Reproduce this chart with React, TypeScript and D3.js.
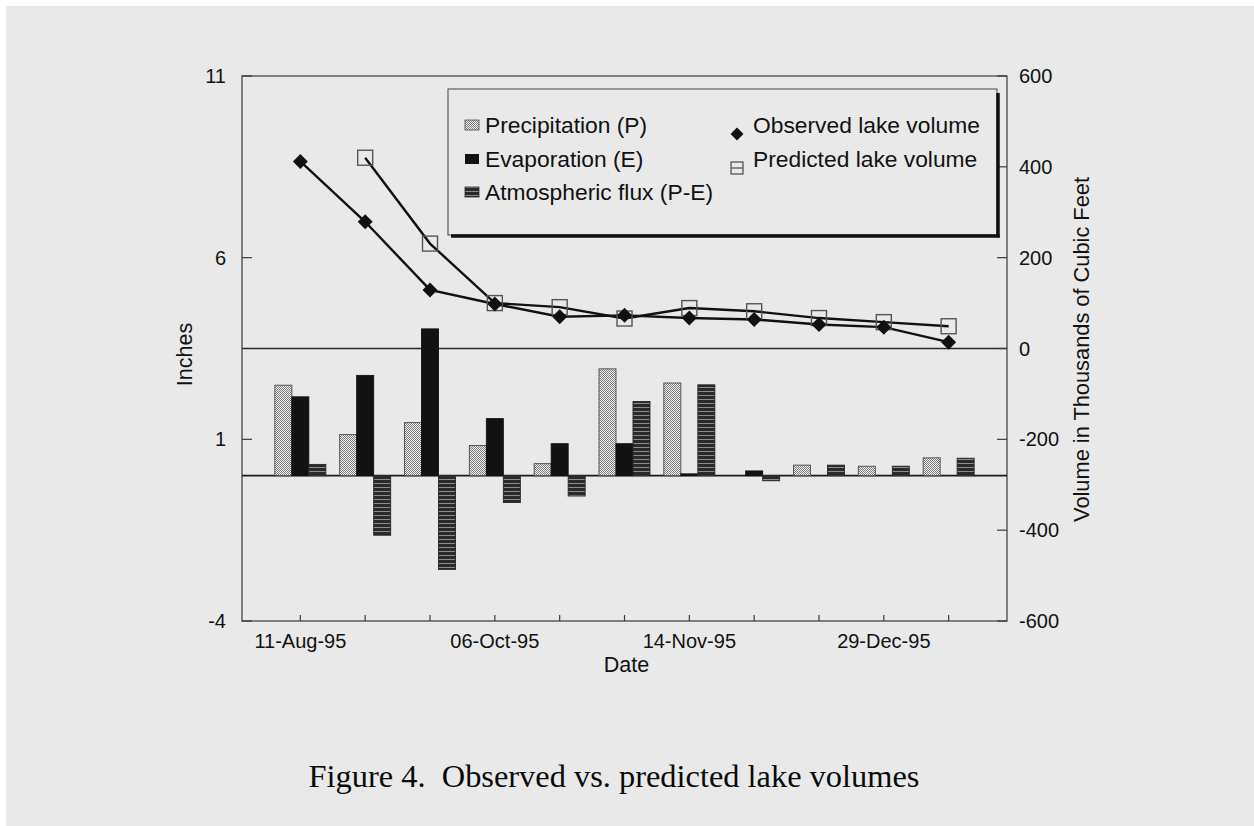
import React from "react";
import * as d3 from "d3";

// Survey intervals (category index) and the dates printed under every third tick
const categories = d3.range(11);
const tickLabels = ["11-Aug-95", "", "", "06-Oct-95", "", "", "14-Nov-95", "", "", "29-Dec-95", ""];

// Inches per interval
const precipitation = [2.49, 1.13, 1.46, 0.83, 0.33, 2.94, 2.55, 0, 0.29, 0.26, 0.49];
const evaporation = [2.17, 2.76, 4.04, 1.57, 0.88, 0.88, 0.05, 0.13, 0, 0, 0];
const atmosphericFlux = [0.31, -1.64, -2.58, -0.74, -0.56, 2.04, 2.5, -0.14, 0.29, 0.26, 0.48];

// Lake volume, thousands of cubic feet
const observedVolume = [412, 279, 129, 98, 70, 73, 67, 64, 53, 47, 14];
const predictedVolume: (number | null)[] = [null, 420, 231, 100, 91, 66, 89, 82, 67, 58, 49];

const leftTicks = [11, 6, 1, -4];
const rightTicks = [600, 400, 200, 0, -200, -400, -600];

const W = 1254;
const H = 826;
const plot = { left: 242, right: 1007, top: 76, bottom: 621 };
const BG = "#e9e9e9";
const INK = "#111111";
const SANS = "Arial, 'Liberation Sans', Helvetica, sans-serif";
const SERIF = "'Times New Roman', 'Liberation Serif', serif";

export default function App() {
  const x = d3
    .scalePoint<number>()
    .domain(categories)
    .range([plot.left, plot.right])
    .padding(0.9);
  const yIn = d3.scaleLinear().domain([-4, 11]).range([plot.bottom, plot.top]);
  const yVol = d3.scaleLinear().domain([-600, 600]).range([plot.bottom, plot.top]);

  const barW = 17;
  const barSeries = [
    { key: "p", values: precipitation, fill: "url(#patPrecip)", stroke: "#4a4a4a", offset: -1.5 },
    { key: "e", values: evaporation, fill: "#121212", stroke: "#121212", offset: -0.5 },
    { key: "f", values: atmosphericFlux, fill: "url(#patFlux)", stroke: "#262626", offset: 0.5 },
  ];

  const line = d3
    .line<number | null>()
    .defined((d) => d !== null)
    .x((_, i) => x(i) as number)
    .y((d) => yVol(d as number));

  const zeroIn = yIn(0);
  const zeroVol = yVol(0);

  const diamond = (cx: number, cy: number, r: number) =>
    `M${cx},${cy - r}L${cx + r},${cy}L${cx},${cy + r}L${cx - r},${cy}Z`;

  return (
    <svg
      width={W}
      height={H}
      viewBox={`0 0 ${W} ${H}`}
      style={{ position: "absolute", left: 0, top: 0, display: "block" }}
    >
      <defs>
        <pattern id="patPrecip" width="2" height="2" patternUnits="userSpaceOnUse">
          <rect width="2" height="2" fill="#f2f2f2" />
          <rect width="1" height="1" fill="#7a7a7a" />
          <rect x="1" y="1" width="1" height="1" fill="#7a7a7a" />
        </pattern>
        <pattern id="patFlux" width="4" height="4" patternUnits="userSpaceOnUse">
          <rect width="4" height="4" fill="#2a2a2a" />
          <rect y="3" width="4" height="1" fill="#8c8c8c" />
        </pattern>
      </defs>

      <rect width={W} height={H} fill="#ffffff" />
      <rect x={6} y={6} width={W - 6} height={H - 6} fill={BG} />

      {/* plot frame */}
      <rect
        x={plot.left}
        y={plot.top}
        width={plot.right - plot.left}
        height={plot.bottom - plot.top}
        fill="none"
        stroke="#3a3a3a"
        strokeWidth={1.2}
      />

      {/* zero lines for both value axes */}
      <line x1={plot.left} x2={plot.right} y1={zeroVol} y2={zeroVol} stroke="#2a2a2a" strokeWidth={1.5} />
      <line x1={plot.left} x2={plot.right} y1={zeroIn} y2={zeroIn} stroke="#1a1a1a" strokeWidth={1.6} />

      {/* bars */}
      {barSeries.map((s) =>
        s.values.map((v, i) => {
          if (v === 0) return null;
          const cx = (x(i) as number) + s.offset * barW;
          const y0 = Math.min(yIn(v), zeroIn);
          const h = Math.abs(yIn(v) - zeroIn);
          return (
            <rect
              key={`${s.key}${i}`}
              x={cx}
              y={y0}
              width={barW}
              height={h}
              fill={s.fill}
              stroke={s.stroke}
              strokeWidth={0.9}
            />
          );
        })
      )}

      {/* volume lines */}
      <path d={line(predictedVolume) || ""} fill="none" stroke={INK} strokeWidth={2.4} />
      <path d={line(observedVolume) || ""} fill="none" stroke={INK} strokeWidth={2.4} />
      {predictedVolume.map((v, i) =>
        v === null ? null : (
          <rect
            key={`pm${i}`}
            x={(x(i) as number) - 7.5}
            y={yVol(v) - 7.5}
            width={15}
            height={15}
            fill="none"
            stroke="#555"
            strokeWidth={1.4}
          />
        )
      )}
      {observedVolume.map((v, i) => (
        <path key={`om${i}`} d={diamond(x(i) as number, yVol(v), 7.5)} fill={INK} />
      ))}

      {/* left axis */}
      {leftTicks.map((t) => (
        <g key={`lt${t}`}>
          <line x1={plot.left} x2={plot.left + 10} y1={yIn(t)} y2={yIn(t)} stroke="#3a3a3a" strokeWidth={1.2} />
          <text x={226} y={yIn(t) + 7} textAnchor="end" fontFamily={SANS} fontSize={20} fill={INK}>
            {t}
          </text>
        </g>
      ))}
      <text
        transform={`translate(192,${(plot.top + plot.bottom) / 2 + 6}) rotate(-90)`}
        textAnchor="middle"
        fontFamily={SANS}
        fontSize={21.5}
        fill={INK}
      >
        Inches
      </text>

      {/* right axis */}
      {rightTicks.map((t) => (
        <g key={`rt${t}`}>
          <line x1={plot.right - 10} x2={plot.right} y1={yVol(t)} y2={yVol(t)} stroke="#3a3a3a" strokeWidth={1.2} />
          <text x={1019} y={yVol(t) + 7} textAnchor="start" fontFamily={SANS} fontSize={20} fill={INK}>
            {t}
          </text>
        </g>
      ))}
      <text
        transform={`translate(1089,${(plot.top + plot.bottom) / 2 + 1}) rotate(-90)`}
        textAnchor="middle"
        fontFamily={SANS}
        fontSize={21.8}
        fill={INK}
      >
        Volume in Thousands of Cubic Feet
      </text>

      {/* date axis */}
      {categories.map((c) => (
        <g key={`xt${c}`}>
          <line x1={x(c)} x2={x(c)} y1={plot.bottom} y2={plot.bottom - 6} stroke="#3a3a3a" strokeWidth={1.2} />
          {tickLabels[c] && (
            <text x={x(c)} y={648} textAnchor="middle" fontFamily={SANS} fontSize={20} fill={INK}>
              {tickLabels[c]}
            </text>
          )}
        </g>
      ))}
      <text x={(plot.left + plot.right) / 2 + 2} y={672} textAnchor="middle" fontFamily={SANS} fontSize={21.5} fill={INK}>
        Date
      </text>

      {/* legend */}
      <g>
        <rect x={448} y={89} width={549} height={146} fill={BG} stroke="#444" strokeWidth={1} />
        <line x1={998} x2={998} y1={93} y2={237.5} stroke="#111" strokeWidth={3.5} />
        <line x1={451} x2={999.7} y1={236} y2={236} stroke="#111" strokeWidth={3.5} />

        <rect x={465} y={120} width={14} height={10} fill="url(#patPrecip)" stroke="#4a4a4a" strokeWidth={0.8} />
        <text x={485} y={133} fontFamily={SANS} fontSize={22.8} fill={INK}>Precipitation (P)</text>

        <rect x={465} y={154} width={14} height={10} fill="#121212" />
        <text x={485} y={167} fontFamily={SANS} fontSize={22.8} fill={INK}>Evaporation (E)</text>

        <rect x={465} y={187} width={14} height={10} fill="url(#patFlux)" stroke="#262626" strokeWidth={0.8} />
        <text x={485} y={200} fontFamily={SANS} fontSize={22.8} fill={INK}>Atmospheric flux (P-E)</text>

        <path d={diamond(737, 134, 6.5)} fill={INK} />
        <text x={753} y={133} fontFamily={SANS} fontSize={22.8} fill={INK}>Observed lake volume</text>

        <rect x={731} y={162} width={12} height={12} fill="none" stroke="#555" strokeWidth={1.3} />
        <line x1={731} x2={743} y1={168} y2={168} stroke="#555" strokeWidth={1.3} />
        <text x={753} y={167} fontFamily={SANS} fontSize={22.8} fill={INK}>Predicted lake volume</text>
      </g>

      {/* caption */}
      <text
        x={614}
        y={787}
        textAnchor="middle"
        fontFamily={SERIF}
        fontSize={32.4}
        fill="#0a0a0a"
        style={{ whiteSpace: "pre" }}
      >
        {"Figure 4.  Observed vs. predicted lake volumes"}
      </text>
    </svg>
  );
}
